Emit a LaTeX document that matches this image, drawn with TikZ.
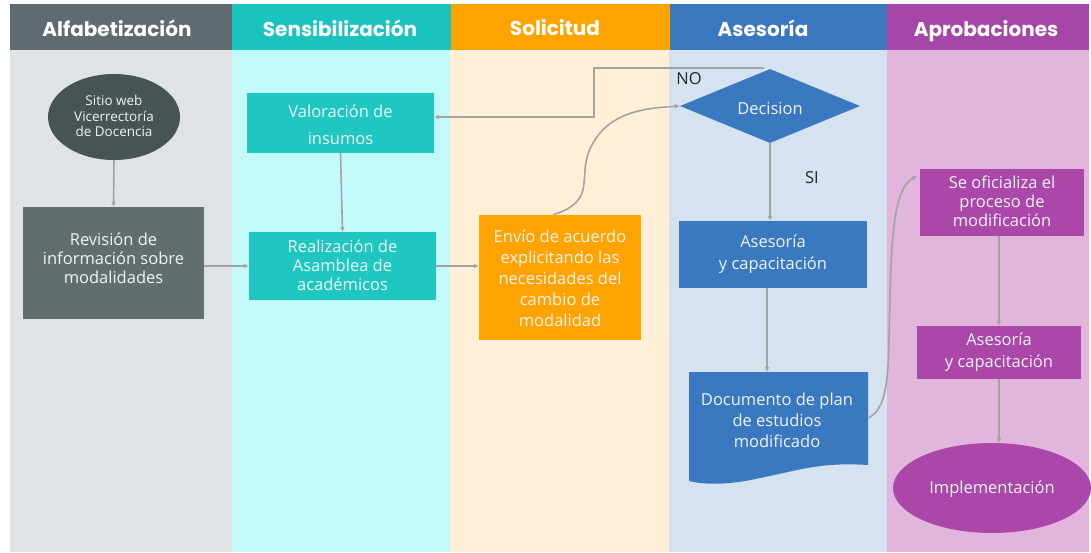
\documentclass[tikz,border=0pt]{standalone}
\usepackage{fontspec}
\setmainfont{Open Sans}
\newfontfamily\hdrfont{Poppins}
\usetikzlibrary{shapes.geometric,arrows.meta}
\definecolor{hA}{HTML}{5F6B70}
\definecolor{hB}{HTML}{1BC3BE}
\definecolor{hC}{HTML}{FFA300}
\definecolor{hD}{HTML}{3B77BE}
\definecolor{hE}{HTML}{A646A6}
\definecolor{bA}{HTML}{E0E3E5}
\definecolor{bB}{HTML}{C2FAFA}
\definecolor{bC}{HTML}{FFEFD6}
\definecolor{bD}{HTML}{D5E2F0}
\definecolor{bE}{HTML}{E2B5DC}
\definecolor{ellA}{HTML}{475355}
\definecolor{boxA}{HTML}{626D70}
\definecolor{boxB}{HTML}{1FC7C1}
\definecolor{boxC}{HTML}{FFA300}
\definecolor{boxD}{HTML}{3A78BF}
\definecolor{boxE}{HTML}{AA47A8}
\definecolor{edge}{HTML}{A3A3A3}
\definecolor{txt}{HTML}{EEF4F4}
\begin{document}
\begin{tikzpicture}[x=1pt,y=-1pt,
  hdr/.style={font=\hdrfont\bfseries\fontsize{20}{24}\selectfont, text=white, anchor=center},
  lbl/.style={text=txt, align=center, inner sep=0pt, font=\fontsize{16.5}{19}\selectfont},
  conn/.style={draw=edge, line width=1.6pt, -{Latex[length=5pt,width=5pt]}},
  plain/.style={draw=edge, line width=1.6pt}]
\useasboundingbox (0,0) rectangle (1091,552);
\fill[white] (0,0) rectangle (1091,552);
% lanes
\fill[bA] (10,50) rectangle (232,552);
\fill[bB] (232,50) rectangle (450,552);
\fill[bC] (450,50) rectangle (669,552);
\fill[bD] (669,50) rectangle (887,552);
\fill[bE] (887,50) rectangle (1089,552);
\fill[hA] (10,4) rectangle (232,50);
\fill[hB] (232,4) rectangle (451,50);
\fill[hC] (451,4) rectangle (670,50);
\fill[hD] (670,4) rectangle (887,50);
\fill[hE] (887,4) rectangle (1089,50);
\node[hdr] (h1) at (117,28) {Alfabetización};
\node[hdr] (h2) at (340,28) {Sensibilización};
\node[hdr] (h3) at (555,28) {Solicitud};
\node[hdr] (h4) at (763,28) {Asesoría};
\node[hdr] (h5) at (986,31) {Aprobaciones};
% nodes
\node[ellipse, fill=ellA, minimum width=132pt, minimum height=86pt, inner sep=0pt] (web) at (114,117) {};
\node[lbl, font=\fontsize{13.5}{15.5}\selectfont] at (114,116) {Sitio web\\Vicerrectoría\\de Docencia};
\node[fill=boxA, minimum width=181pt, minimum height=112pt, inner sep=0pt] (rev) at (113.5,263) {};
\node[lbl] at (113.5,258) {Revisión de\\información sobre\\modalidades};
\node[fill=boxB, minimum width=187pt, minimum height=60pt, inner sep=0pt] (val) at (340.5,123) {};
\node[lbl, font=\fontsize{16.5}{27}\selectfont] at (340.5,125) {Valoración de\\insumos};
\node[fill=boxB, minimum width=187pt, minimum height=68pt, inner sep=0pt] (rea) at (342.5,266) {};
\node[lbl] at (342.5,265) {Realización de\\Asamblea de\\académicos};
\node[fill=boxC, minimum width=162pt, minimum height=125pt, inner sep=0pt] (env) at (560,277.5) {};
\node[lbl, font=\fontsize{16.5}{21}\selectfont] at (560,278) {Envío de acuerdo\\explicitando las\\necesidades del\\cambio de\\modalidad};
\node[diamond, aspect=2.43, fill=boxD, minimum width=180pt, minimum height=74pt, inner sep=0pt] (dec) at (770,106) {};
\node[lbl] at (770,109) {Decision};
\node[fill=boxD, minimum width=188pt, minimum height=67pt, inner sep=0pt] (ase) at (773,254.5) {};
\node[lbl, font=\fontsize{16.5}{22}\selectfont] at (773,254) {Asesoría\\y capacitación};
\fill[boxD] (689,372) -- (868,372) -- (868,465) .. controls (820,462) and (800,470) .. (760,478) .. controls (730,485) and (705,485) .. (689,481) -- cycle;
\coordinate (docN) at (767,372);
\coordinate (docE) at (868,418);
\node[lbl, font=\fontsize{16.5}{21}\selectfont] (doc) at (777,420) {Documento de plan\\de estudios\\modificado};
\node[fill=boxE, minimum width=164pt, minimum height=67pt, inner sep=0pt] (ofi) at (1002,202.5) {};
\node[lbl] at (1002,201) {Se oficializa el\\proceso de\\modificación};
\node[fill=boxE, minimum width=164pt, minimum height=53pt, inner sep=0pt] (as2) at (999,352.5) {};
\node[lbl, font=\fontsize{16.5}{22}\selectfont] at (999,352) {Asesoría\\y capacitación};
\node[ellipse, fill=boxE, minimum width=198pt, minimum height=90pt, inner sep=0pt] (imp) at (992,488) {};
\node[lbl] at (992,489) {Implementación};
% labels
\node[font=\fontsize{16.5}{18}\selectfont, text=black!85] (no) at (689,79) {NO};
\node[font=\fontsize{16.5}{18}\selectfont, text=black!85] (si) at (812,178) {SI};
% connectors
\draw[conn] (web.south) -- (rev.north);
\draw[conn] (val.south) -- (rea.north);
\draw[conn] (rev.east |- 0,266) -- (rea.west |- 0,266);
\draw[conn] (rea.east |- 0,266) -- (env.west |- 0,266);
\draw[conn] (dec.south) -- (ase.north -| dec.south);
\draw[conn] (docN |- ase.south) -- (docN);
\draw[conn] (ofi.south -| 999,0) -- (as2.north -| 999,0);
\draw[conn] (as2.south -| 999,0) -- (imp.north -| 999,0);
\coordinate (noA) at (764,68);
\draw[conn] (noA) -- (594,68) -- (594,117) -- (val.east |- 0,117);
\draw[conn] (env.north -| 553,0) .. controls (600,200) and (575,175) .. (592,145) .. controls (610,110) and (650,108) .. (dec.west);
\draw[conn] (docE) .. controls (885,410) and (888,385) .. (889,340) .. controls (891,260) and (890,190) .. (917,176);
\end{tikzpicture}
\end{document}
